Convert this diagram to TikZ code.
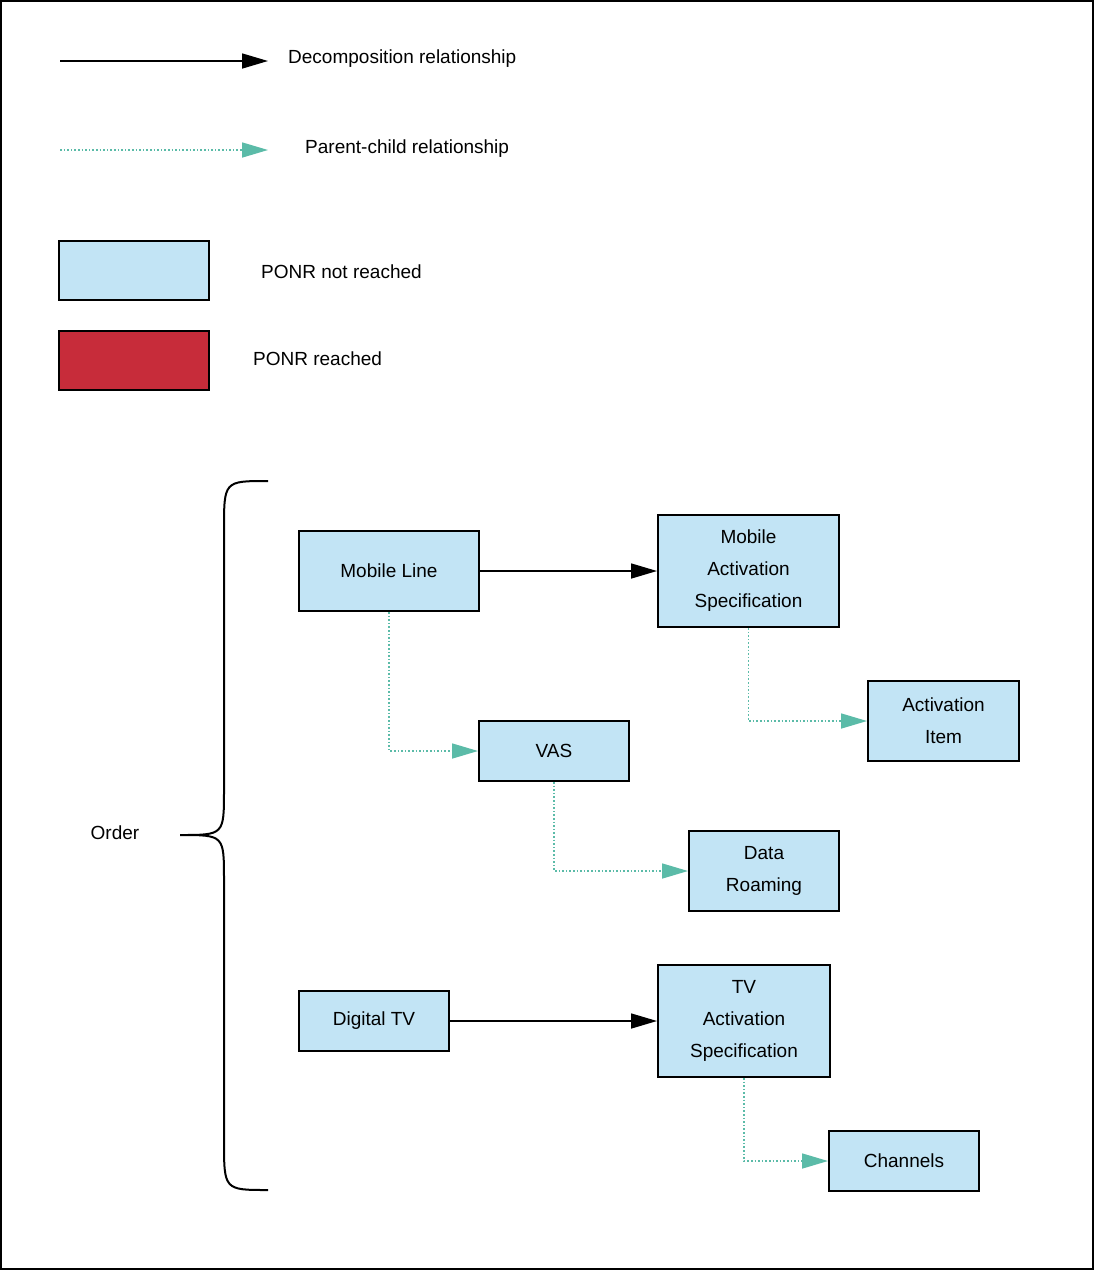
\documentclass[tikz,border=0pt]{standalone}
\usepackage{fontspec}
\setmainfont{Liberation Sans}
\usetikzlibrary{arrows.meta}
\definecolor{bfill}{HTML}{C2E4F5}
\definecolor{rfill}{HTML}{C72C3A}
\definecolor{teal}{HTML}{5BBBA8}
\begin{document}
\begin{tikzpicture}[x=1pt,y=-1pt,
  box/.style={draw=black,line width=2pt,fill=bfill,align=center,inner sep=0pt,font=\fontsize{19}{32}\selectfont},
  lbl/.style={anchor=west,inner sep=0pt,font=\fontsize{19}{23}\selectfont},
  dec/.style={line width=1.6pt,-{Triangle[length=26pt,width=15pt]}},
  pc/.style={teal,line width=1.6pt,dotted,-{Triangle[length=26pt,width=15pt]}}]
\useasboundingbox (0,0) rectangle (1094,1270);
\draw[line width=2pt] (1,1) rectangle (1093,1269);
% legend
\coordinate (l1a) at (60,61); \coordinate (l1b) at (268,61);
\draw[dec] (l1a) -- (l1b);
\node[lbl] (t1) at (288,59) {Decomposition relationship};
\coordinate (l2a) at (60,150); \coordinate (l2b) at (268,150);
\draw[pc] (l2a) -- (l2b);
\node[lbl] (t2) at (305,149) {Parent-child relationship};
\node[draw,line width=2pt,fill=bfill,minimum width=150pt,minimum height=59pt] (lb) at (134,270.5) {};
\node[lbl] (t3) at (261,272) {PONR not reached};
\node[draw,line width=2pt,fill=rfill,minimum width=150pt,minimum height=59pt] (lr) at (134,360.5) {};
\node[lbl] (t4) at (253,359) {PONR reached};
% brace
\draw[line width=2pt] (268,481) .. controls (224,481) .. (224,530) -- (224,790) .. controls (224,835) .. (180,835)
  .. controls (224,835) .. (224,880) -- (224,1140) .. controls (224,1190) .. (268,1190);
\node[lbl,anchor=center] (ord) at (115,833) {Order};
% nodes
\node[box,minimum width=180pt,minimum height=80pt] (ml) at (389,571) {Mobile Line};
\node[box,minimum width=181pt,minimum height=112pt] (mas) at (748.5,571) {Mobile\\Activation\\Specification};
\node[box,minimum width=151pt,minimum height=80pt] (ai) at (943.5,721) {Activation\\Item};
\node[box,minimum width=150pt,minimum height=60pt] (vas) at (554,751) {VAS};
\node[box,minimum width=150pt,minimum height=80pt] (dr) at (764,871) {Data\\Roaming};
\node[box,minimum width=150pt,minimum height=60pt] (dtv) at (374,1021) {Digital TV};
\node[box,minimum width=172pt,minimum height=112pt] (tas) at (744,1021) {TV\\Activation\\Specification};
\node[box,minimum width=150pt,minimum height=60pt] (ch) at (904,1161) {Channels};
% connectors
\draw[dec] (ml.east) -- (mas.west);
\draw[dec] (dtv.east) -- (tas.west);
\draw[pc] (ml.south) |- (vas.west);
\draw[pc] (mas.south) |- (ai.west);
\draw[pc] (vas.south) |- (dr.west);
\draw[pc] (tas.south) |- (ch.west);
\end{tikzpicture}
\end{document}
